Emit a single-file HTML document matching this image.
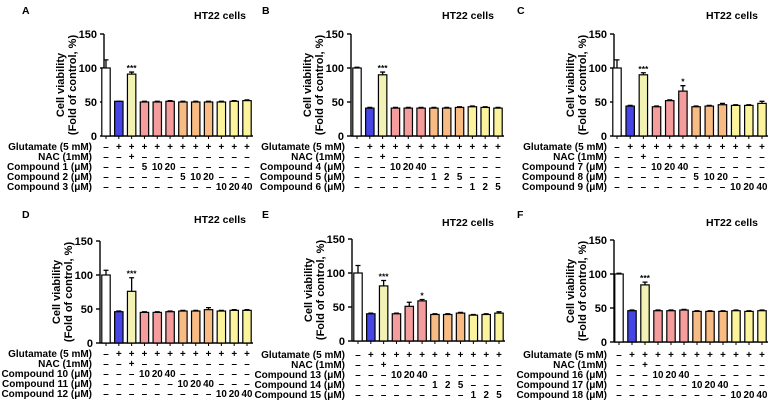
<!DOCTYPE html>
<html><head><meta charset="utf-8"><style>
html,body{margin:0;padding:0;background:#fff;}
svg{display:block;font-family:"Liberation Sans",Arial,sans-serif;font-weight:bold;}
</style></head><body>
<svg id="fig" width="772" height="403" viewBox="0 0 772 403"></svg>
<script>
const NS="http://www.w3.org/2000/svg";
const svg=document.getElementById('fig');
// data arrays
const panelLetters=["A","B","C","D","E","F"];
const valuesA=[100,51,91,50,50,51,50,50,50,50,51,52];
const errorsA=[12,0,3,1,1,1,1,1,1,1,1,1];
const starsA=["","","***","","","","","","","","",""];
const valuesB=[100,41,90,41,41,41,41,41,42,43,42,41];
const errorsB=[1,1,4,1,1,1,1,1,1,1,1,1];
const starsB=["","","***","","","","","","","","",""];
const valuesC=[100,44,90,43,52,66,43,44,46,45,45,48];
const errorsC=[12,1,3,1,1,8,1,1,2,1,1,3];
const starsC=["","","***","","","*","","","","","",""];
const valuesD=[100,46,76,45,45,46,47,47,49,47,48,48];
const errorsD=[7,1,20,1,1,1,1,1,3,1,1,1];
const starsD=["","","***","","","","","","","","",""];
const valuesE=[100,40,81,40,51,59,39,39,41,38,39,41];
const errorsE=[11,1,8,1,6,2,1,1,1,1,1,2];
const starsE=["","","***","","","*","","","","","",""];
const valuesF=[100,46,84,46,46,47,45,45,45,46,45,46];
const errorsF=[1,1,4,1,1,1,1,1,1,1,1,1];
const starsF=["","","***","","","","","","","","",""];
const yTicks=[0,50,100,150];
const rowLabelsA=["Glutamate (5 mM)","NAC (1mM)","Compound 1 (μM)","Compound 2 (μM)","Compound 3 (μM)"];
const rowLabelsB=["Glutamate (5 mM)","NAC (1mM)","Compound 4 (μM)","Compound 5 (μM)","Compound 6 (μM)"];
const rowLabelsC=["Glutamate (5 mM)","NAC (1mM)","Compound 7 (μM)","Compound 8 (μM)","Compound 9 (μM)"];
const rowLabelsD=["Glutamate (5 mM)","NAC (1mM)","Compound 10 (μM)","Compound 11 (μM)","Compound 12 (μM)"];
const rowLabelsE=["Glutamate (5 mM)","NAC (1mM)","Compound 13 (μM)","Compound 14 (μM)","Compound 15 (μM)"];
const rowLabelsF=["Glutamate (5 mM)","NAC (1mM)","Compound 16 (μM)","Compound 17 (μM)","Compound 18 (μM)"];
const dosesA=[["5","10","20"],["5","10","20"],["10","20","40"]];
const dosesB=[["10","20","40"],["1","2","5"],["1","2","5"]];
const dosesC=[["10","20","40"],["5","10","20"],["10","20","40"]];
const dosesD=[["10","20","40"],["10","20","40"],["10","20","40"]];
const dosesE=[["10","20","40"],["1","2","5"],["1","2","5"]];
const dosesF=[["10","20","40"],["10","20","40"],["10","20","40"]];

const barColors=["#ffffff","#4646e6","#f2f2b4","#f59c9c","#f8bb84","#fbf49c"];
function colorFor(i){return i<3?barColors[i]:barColors[3+Math.floor((i-3)/3)];}

const panels=[
 {v:valuesA,e:errorsA,s:starsA,r:rowLabelsA,d:dosesA,ax:104,y0:136,y150:34,b0:106,b1:247,lx:92,rows:146,tx:220,ty:19,letX:22,letY:14},
 {v:valuesB,e:errorsB,s:starsB,r:rowLabelsB,d:dosesB,ax:351,y0:136,y150:34,b0:357,b1:498,lx:345,rows:146,tx:468,ty:19,letX:262,letY:14},
 {v:valuesC,e:errorsC,s:starsC,r:rowLabelsC,d:dosesC,ax:614,y0:136,y150:34,b0:617,b1:762,lx:607,rows:146,tx:732,ty:19,letX:517,letY:14},
 {v:valuesD,e:errorsD,s:starsD,r:rowLabelsD,d:dosesD,ax:100,y0:343,y150:241,b0:106,b1:247,lx:92,rows:353,tx:220,ty:223,letX:22,letY:218},
 {v:valuesE,e:errorsE,s:starsE,r:rowLabelsE,d:dosesE,ax:352,y0:341,y150:239,b0:358,b1:499,lx:345,rows:354,tx:468,ty:226,letX:262,letY:218},
 {v:valuesF,e:errorsF,s:starsF,r:rowLabelsF,d:dosesF,ax:614,y0:342,y150:240,b0:619,b1:762,lx:607,rows:354,tx:732,ty:226,letX:517,letY:218}
];
function mk(tag,attrs,parent,text){const el=document.createElementNS(NS,tag);for(const k in attrs)el.setAttribute(k,attrs[k]);if(text!==undefined)el.textContent=text;(parent||svg).appendChild(el);return el;}

panels.forEach((p,pi)=>{
  const g=mk('g',{});
  
  
  const ys=v=>p.y0-(v/150)*(p.y0-p.y150);
  const xs=i=>p.b0+i*(p.b1-p.b0)/11;
  const L=mk('text',{x:p.letX,y:p.letY,'font-size':10.5},g,panelLetters[pi]);
  
  
  const T=mk('text',{x:p.tx,y:p.ty,'font-size':10.5,'text-anchor':'middle'},g,'HT22 cells');
  
  
  const cy=(p.y0+p.y150)/2;
  const t1=mk('text',{x:0,y:0,'font-size':11,'text-anchor':'middle',transform:`translate(${p.ax-40},${cy}) rotate(-90)`},g,'Cell viability');
  
  
  const t2=mk('text',{x:0,y:0,'font-size':11,'text-anchor':'middle',transform:`translate(${p.ax-28},${cy}) rotate(-90)`},g,'(Fold of control, %)');
  
  
  const ya=mk('line',{x1:p.ax,y1:p.y150,x2:p.ax,y2:p.y0,stroke:'#000','stroke-width':1.4},g);
  
  
  yTicks.forEach(t=>{
    const y=ys(t);
    const tk=mk('line',{x1:p.ax-4,y1:y,x2:p.ax,y2:y,stroke:'#000','stroke-width':1.4},g);
    
    
    const tl=mk('text',{x:p.ax-7,y:y+4,'font-size':11,'text-anchor':'end'},g,String(t));
    
    
  });
  const xa=mk('line',{x1:p.ax,y1:p.y0,x2:xs(11)+6,y2:p.y0,stroke:'#000','stroke-width':1.4},g);
  
  
  const bw=8.4;
  p.v.forEach((v,i)=>{
    const x=xs(i);
    const tk=mk('line',{x1:x,y1:p.y0,x2:x,y2:p.y0+3,stroke:'#000','stroke-width':1},g);
    
    
    const top=ys(v+p.e[i]);
    const eb=mk('path',{d:`M${x},${ys(v)}V${top}M${x-2.5},${top}H${x+2.5}`,stroke:'#000','stroke-width':1.3,fill:'none'},g);
    
    
    const r=mk('rect',{x:x-bw/2,y:ys(v),width:bw,height:p.y0-ys(v),fill:colorFor(i),stroke:'#000','stroke-width':1.2},g);
    
    
    if(p.s[i]){
      const st=mk('text',{x:x,y:top-1,'font-size':8.5,'text-anchor':'middle'},g,p.s[i]);
      
      
    }
  });
  p.r.forEach((lab,ri)=>{
    const y=p.rows+ri*10+4;
    const rl=mk('text',{x:p.lx,y:y,'font-size':10,'text-anchor':'end'},g,lab);
    
    
    for(let i=0;i<12;i++){
      let s='–';
      if(ri===0) s=i===0?'–':'+';
      else if(ri===1) s=i===2?'+':'–';
      else { const gi=ri-2; const st=3+gi*3; if(i>=st&&i<st+3) s=p.d[gi][i-st]; }
      const c=mk('text',{x:xs(i),y:y,'font-size':9.8,'text-anchor':'middle'},g,s);
      
      
    }
  });
});
</script>
</body></html>
